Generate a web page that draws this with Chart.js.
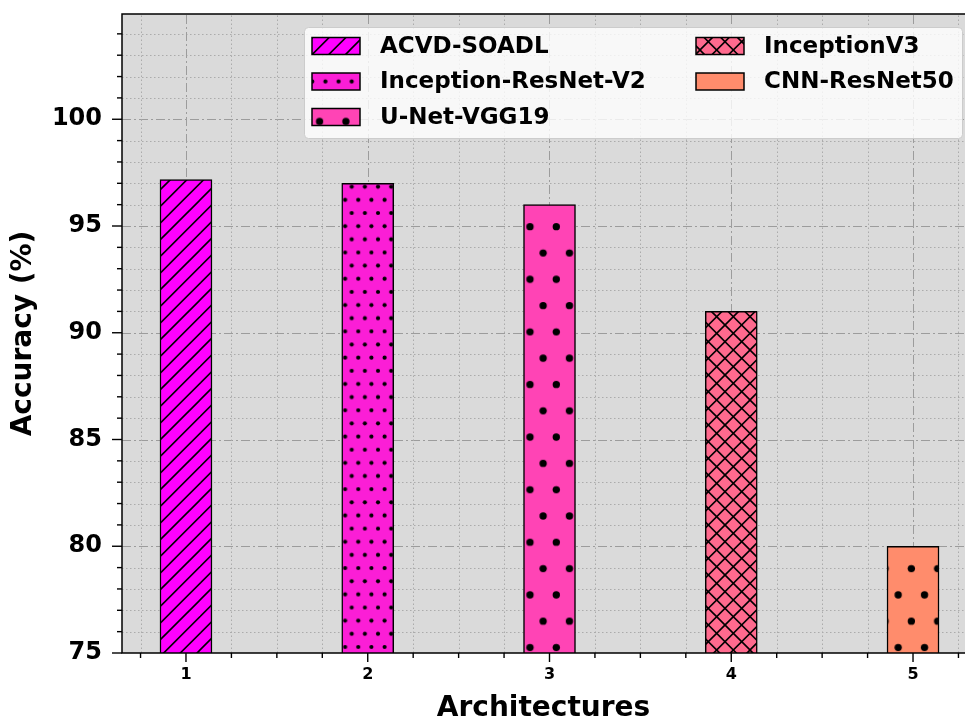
<!DOCTYPE html>
<html><head><meta charset="utf-8">
<script src="https://cdn.jsdelivr.net/npm/chart.js@4"></script>
<style>html,body{margin:0;padding:0;background:#fff;overflow:hidden}</style>
</head><body>
<canvas id="c" width="965" height="720"></canvas>
<script>
// ---- data ----
const architectures = [1, 2, 3, 4, 5];
const models = ['ACVD-SOADL', 'Inception-ResNet-V2', 'U-Net-VGG19', 'InceptionV3', 'CNN-ResNet50'];
const accuracy = [97.18, 97.0, 96.0, 91.0, 80.0];
const yTickLabels = [75, 80, 85, 90, 95, 100];
const xTickLabels = [1, 2, 3, 4, 5];
const barColors = ['#ff00ff', '#fb1ed6', '#ff44b5', '#ff6a8e', '#ff8c6c'];
const hatches = ['/', '.', 'o', 'x', 'o'];

const FONT = "'DejaVu Sans', sans-serif";
Chart.defaults.font.family = FONT;

// hatch tiles; dot hatches get a small scale/phase transform (style only)
const hatchPhase = {'.': [348.4, 183.4], 'o': [523.4, 220.1]};
const hatchScale = 0.98625;

function hatchPattern(color, kind) {
  const dims = {'/': [50, 50], 'x': [50, 50], '.': [40, 80], 'o': [80, 160]};
  const [w, h] = dims[kind];
  const c = document.createElement('canvas');
  c.width = w; c.height = h;
  const g = c.getContext('2d');
  g.fillStyle = color; g.fillRect(0, 0, w, h);
  g.strokeStyle = '#000'; g.fillStyle = '#000'; g.lineWidth = 1.6;
  if (kind === '/' || kind === 'x') {
    const s = 50 / 3;
    for (let k = -2; k <= 8; k++) {
      const cc = k * s;
      g.beginPath(); g.moveTo(cc + 20, -20); g.lineTo(cc - 80, 80); g.stroke();
    }
    if (kind === 'x') {
      for (let k = -5; k <= 5; k++) {
        const cc = k * s;
        g.beginPath(); g.moveTo(cc - 20, -20); g.lineTo(cc + 80, 80); g.stroke();
      }
    }
  } else {
    const s = kind === '.' ? 40 / 3 : 80 / 3;
    const r = kind === '.' ? 2.1 : 3.7;
    const rows = Math.round(h / s), cols = Math.round(w / s);
    for (let i = 0; i < rows; i++) for (let j = 0; j < cols; j++) {
      const x = j * s + (i % 2 ? s / 2 : 0) + s / 4, y = i * s + s / 4;
      for (let dx = -1; dx <= 1; dx++) for (let dy = -1; dy <= 1; dy++) {
        g.beginPath(); g.arc(x + dx * w, y + dy * h, r, 0, Math.PI * 2); g.fill();
      }
    }
  }
  const pat = g.createPattern(c, 'repeat');
  if (hatchPhase[kind] && pat.setTransform && typeof DOMMatrix !== 'undefined') {
    pat.setTransform(new DOMMatrix().translate(hatchPhase[kind][0], hatchPhase[kind][1]).scale(hatchScale));
  }
  return pat;
}

const patterns = barColors.map((col, i) => hatchPattern(col, hatches[i]));

const datasets = models.map((m, i) => ({
  label: m,
  data: [{x: architectures[i], y: accuracy[i]}],
  backgroundColor: patterns[i],
  borderColor: '#000',
  borderWidth: 1.5,
  barThickness: 52,
  grouped: false
}));

const isMajorY = v => yTickLabels.includes(v);
const isMajorX = v => xTickLabels.includes(v);

const gridPlugin = {
  id: 'mplGrid',
  beforeDraw(chart) {
    const {ctx, chartArea: a} = chart;
    ctx.save();
    ctx.fillStyle = '#dadada';
    ctx.fillRect(a.left, a.top, a.right - a.left, a.bottom - a.top);
    ctx.restore();
  },
  beforeDatasetsDraw(chart) {
    const {ctx, chartArea: a, scales} = chart;
    ctx.save();
    ctx.beginPath(); ctx.rect(a.left, a.top, a.right - a.left, a.bottom - a.top); ctx.clip();
    ctx.lineWidth = 1;
    scales.y.ticks.forEach(t => {
      const p = Math.round(scales.y.getPixelForValue(t.value)) + 0.5;
      if (isMajorY(t.value)) { ctx.setLineDash([9, 3, 2, 3]); ctx.strokeStyle = '#9c9c9c'; }
      else { ctx.setLineDash([1.5, 2.5]); ctx.strokeStyle = '#ababab'; }
      ctx.beginPath(); ctx.moveTo(a.left, p); ctx.lineTo(a.right, p); ctx.stroke();
    });
    scales.x.ticks.forEach(t => {
      const p = Math.round(scales.x.getPixelForValue(t.value)) + 0.5;
      if (isMajorX(t.value)) { ctx.setLineDash([9, 3, 2, 3]); ctx.strokeStyle = '#9c9c9c'; }
      else { ctx.setLineDash([1.5, 2.5]); ctx.strokeStyle = '#ababab'; }
      ctx.beginPath(); ctx.moveTo(p, a.bottom); ctx.lineTo(p, a.top); ctx.stroke();
    });
    ctx.restore();
  },
  afterDatasetsDraw(chart) {
    const {ctx, chartArea: a, scales} = chart;
    ctx.save();
    // spines (right spine lies just outside the picture in the reference)
    ctx.strokeStyle = '#000'; ctx.lineWidth = 1.5; ctx.setLineDash([]);
    ctx.beginPath();
    ctx.moveTo(a.right + 2, a.top); ctx.lineTo(a.left, a.top); ctx.lineTo(a.left, a.bottom); ctx.lineTo(a.right + 2, a.bottom);
    ctx.stroke();
    // tick marks
    ctx.lineWidth = 1.4;
    scales.y.ticks.forEach(t => {
      const p = scales.y.getPixelForValue(t.value);
      const len = isMajorY(t.value) ? 10 : 5;
      ctx.beginPath(); ctx.moveTo(a.left - len, p); ctx.lineTo(a.left, p); ctx.stroke();
    });
    scales.x.ticks.forEach(t => {
      const p = scales.x.getPixelForValue(t.value);
      const len = isMajorX(t.value) ? 9 : 5;
      ctx.beginPath(); ctx.moveTo(p, a.bottom); ctx.lineTo(p, a.bottom + len); ctx.stroke();
    });
    // legend (matplotlib style, column-major, upper right)
    const bx = a.left + 182, by = a.top + 13, bw = 658, bh = 111;
    ctx.fillStyle = 'rgba(255,255,255,0.8)';
    ctx.strokeStyle = '#cccccc'; ctx.lineWidth = 1;
    ctx.beginPath();
    if (ctx.roundRect) ctx.roundRect(bx + 0.5, by + 0.5, bw, bh, 4); else ctx.rect(bx + 0.5, by + 0.5, bw, bh);
    ctx.fill(); ctx.stroke();
    ctx.font = "bold 23px " + FONT;
    ctx.textBaseline = 'middle'; ctx.textAlign = 'left';
    chart.data.datasets.forEach((ds, i) => {
      const col = i < 3 ? 0 : 1, row = i < 3 ? i : i - 3;
      const px = bx + 8 + col * 384;
      const cy = by + 19 + row * 35.5;
      ctx.fillStyle = ds.backgroundColor;
      ctx.fillRect(px, cy - 8.5, 48, 17);
      ctx.strokeStyle = '#000'; ctx.lineWidth = 1.5;
      ctx.strokeRect(px, cy - 8.5, 48, 17);
      ctx.fillStyle = '#000';
      ctx.fillText(ds.label, px + 68, cy + 1);
    });
    ctx.restore();
  }
};

new Chart(document.getElementById('c'), {
  type: 'bar',
  data: {datasets},
  options: {
    responsive: false,
    devicePixelRatio: 1,
    animation: false,
    layout: {padding: {top: 14, left: 0, right: 0, bottom: 0}},
    plugins: {legend: {display: false}, tooltip: {enabled: false}},
    scales: {
      x: {
        type: 'linear', min: 0.648, max: 5.286, offset: false,
        grid: {display: false, drawTicks: false}, border: {display: false},
        ticks: {
          stepSize: 0.25, includeBounds: false, autoSkip: false, maxRotation: 0, padding: 12,
          color: '#000', font: {size: 16, weight: 'bold'},
          callback: v => isMajorX(v) ? String(v) : ''
        },
        title: {display: true, text: 'Architectures', color: '#000',
          font: {size: 28, weight: 'bold', lineHeight: 0.72}, padding: {top: 0, bottom: 1}},
        afterFit: s => { s.height = 67; s.paddingLeft = 0; s.paddingRight = 0; }
      },
      y: {
        type: 'linear', min: 75, max: 104.93,
        grid: {display: false, drawTicks: false}, border: {display: false},
        ticks: {
          stepSize: 1, includeBounds: false, autoSkip: false, padding: 20,
          color: '#000', font: {size: 24, weight: 'bold'},
          callback: v => isMajorY(v) ? String(v) : ''
        },
        title: {display: true, text: 'Accuracy (%)', color: '#000',
          font: {size: 28, weight: 'bold', lineHeight: 1}, padding: {top: 10, bottom: 0}},
        afterFit: s => { s.width = 122; s.paddingTop = 0; s.paddingBottom = 0; }
      }
    }
  },
  plugins: [gridPlugin]
});
</script>
</body></html>
